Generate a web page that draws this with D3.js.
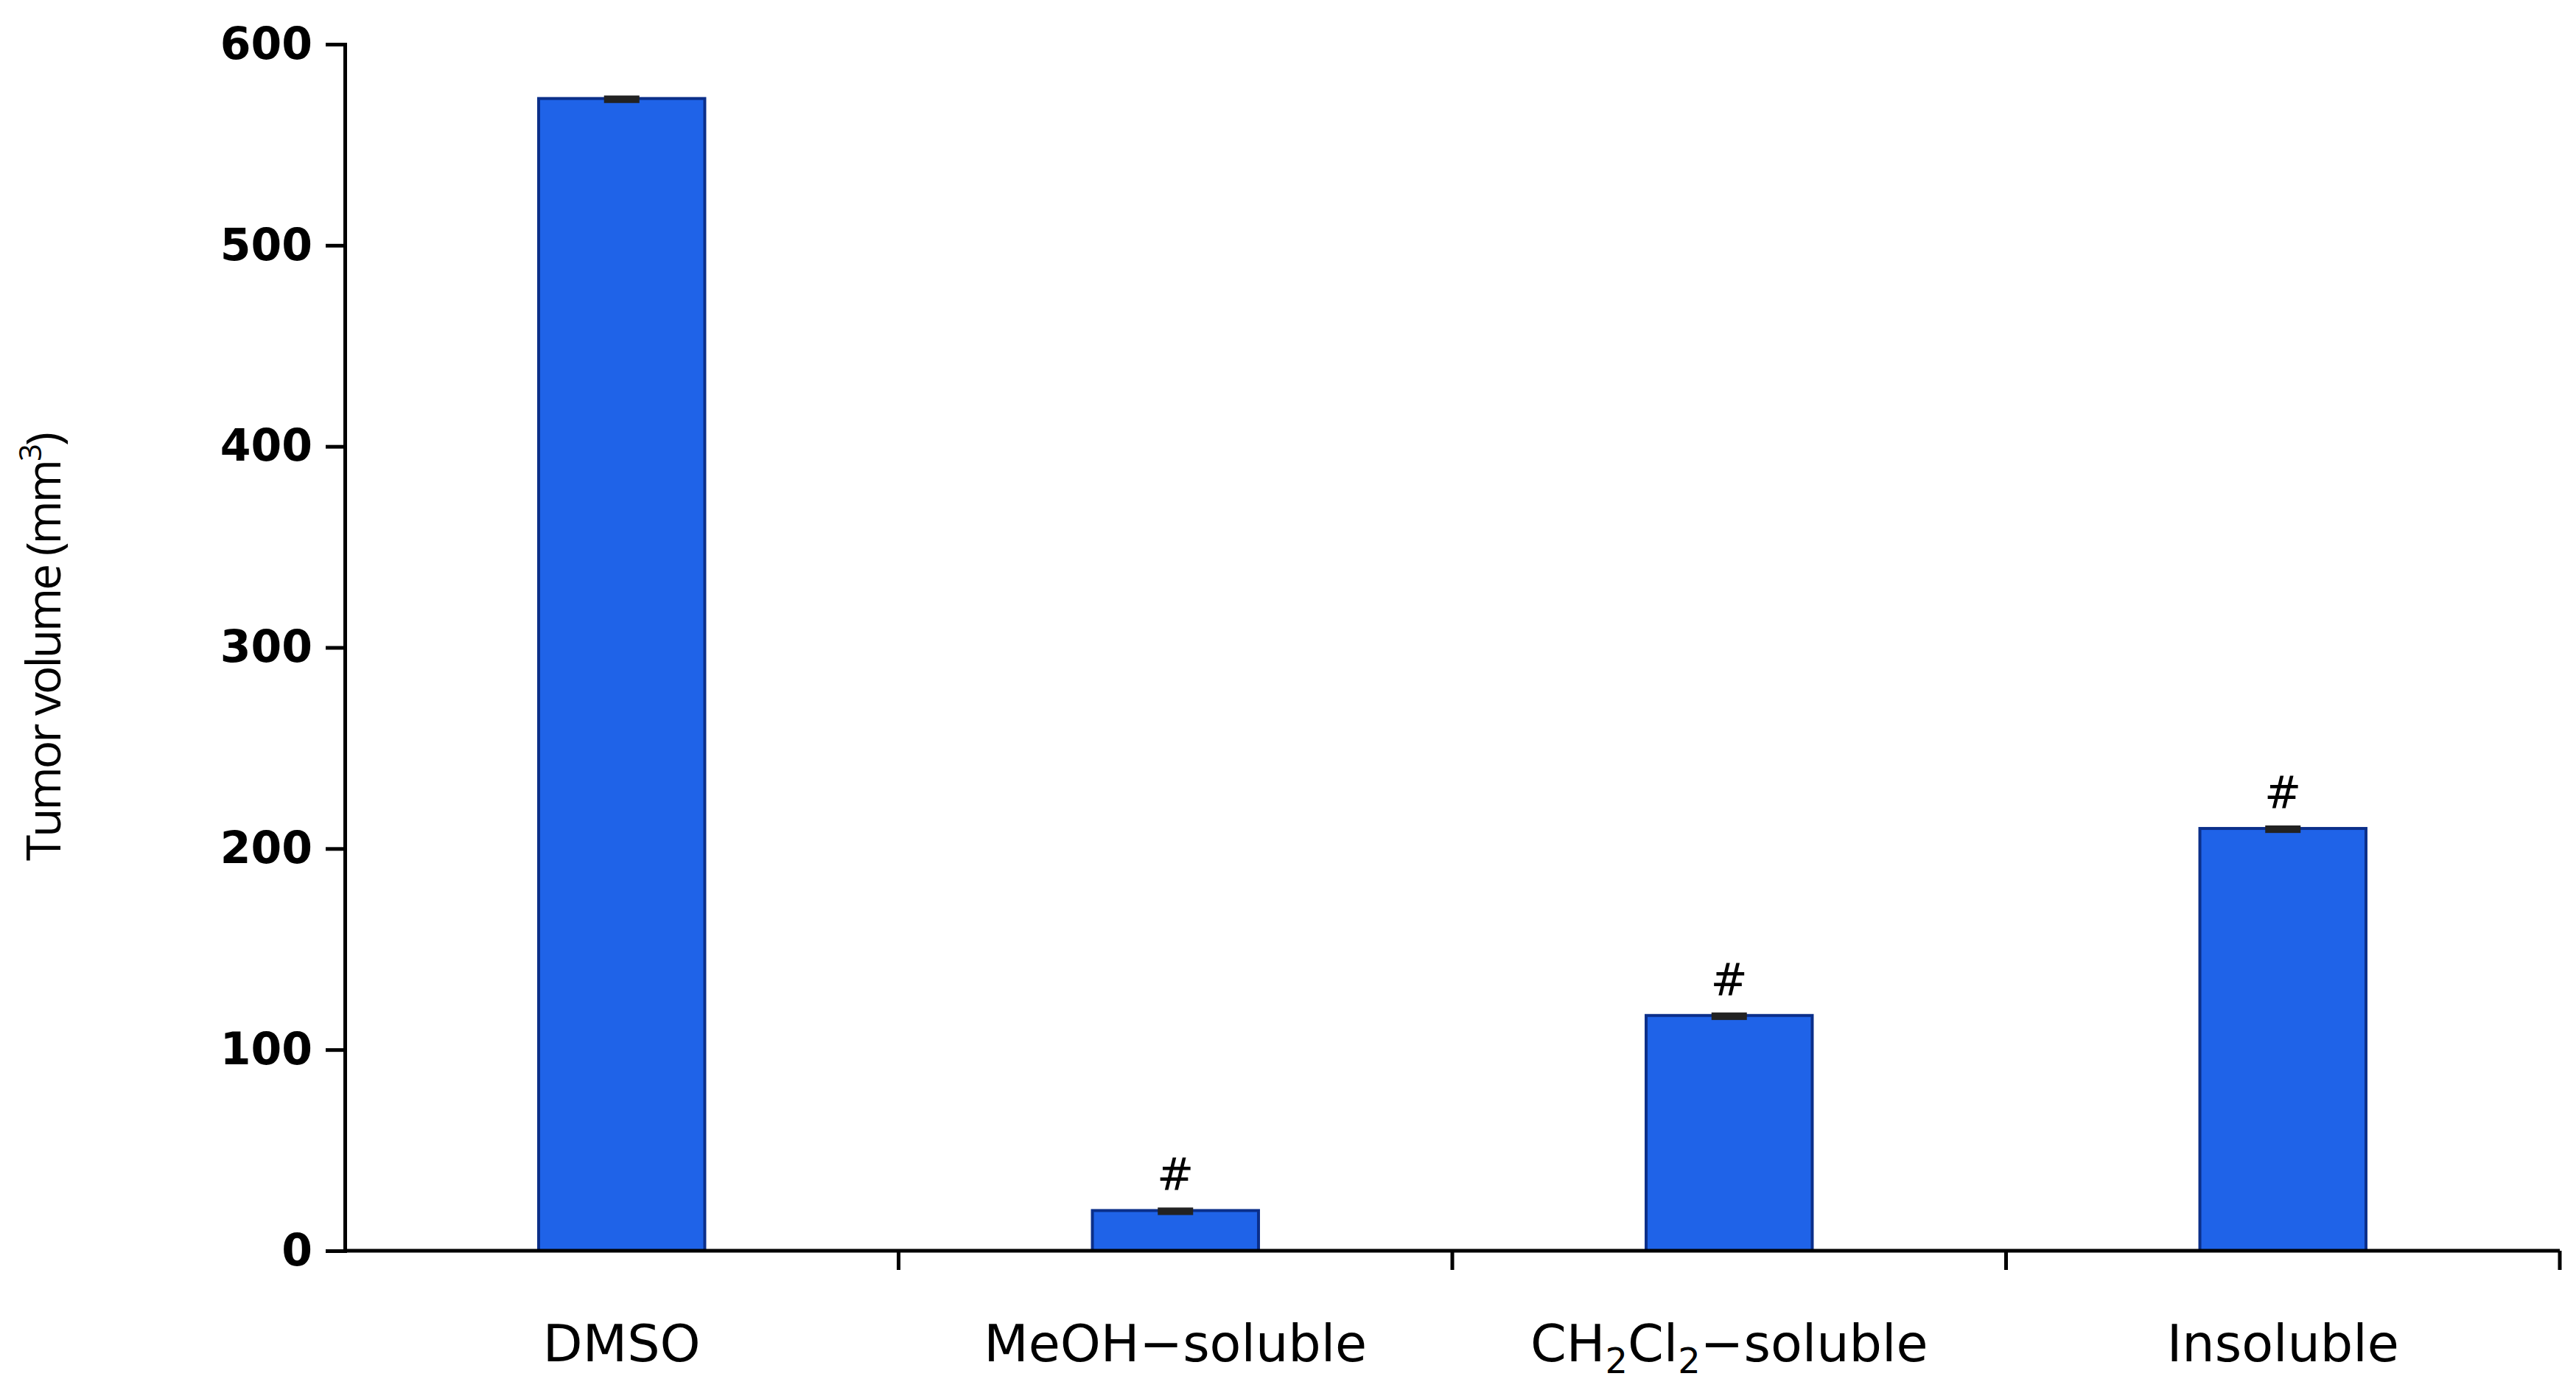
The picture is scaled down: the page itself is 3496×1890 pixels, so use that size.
<!DOCTYPE html>
<html><head><meta charset="utf-8">
<script src="https://cdn.jsdelivr.net/npm/d3@7"></script>
<style>body{margin:0;background:#fff}</style>
</head><body>
<script>
const categories = ['DMSO', 'MeOH-soluble', 'CH2Cl2-soluble', 'Insoluble'];
const values = [573, 20, 117, 210];
const errors = [1.5, 1.5, 1.5, 1.5];
const marks = ['', '#', '#', '#'];
const yTicks = [0, 100, 200, 300, 400, 500, 600];

const W = 3496, H = 1890;
const m = {left: 468, right: 22, top: 60, bottom: 193};

const svg = d3.select('body').append('svg').attr('width', W).attr('height', H);

const x = d3.scaleBand().domain(categories).range([m.left, W - m.right]).paddingInner(0.7).paddingOuter(0.35);
const y = d3.scaleLinear().domain([0, 600]).range([H - m.bottom, m.top]);

// bars
svg.selectAll('rect.bar').data(values).enter().append('rect')
    .attr('class', 'bar')
    .attr('x', (d, i) => x(categories[i]))
    .attr('width', x.bandwidth())
    .attr('y', d => y(d))
    .attr('height', d => y(0) - y(d))
    .attr('fill', '#1f63e8')
    .attr('stroke', '#0b2f8a')
    .attr('stroke-width', 4);

// error caps
svg.selectAll('rect.err').data(values).enter().append('rect')
    .attr('x', (d, i) => x(categories[i]) + x.bandwidth() / 2 - 24)
    .attr('width', 48)
    .attr('y', (d, i) => y(d + errors[i]))
    .attr('height', (d, i) => y(d - errors[i]) - y(d + errors[i]) + 2)
    .attr('fill', '#222');

// significance marks
svg.selectAll('text.mark').data(values).enter().append('text')
    .attr('x', (d, i) => x(categories[i]) + x.bandwidth() / 2)
    .attr('y', d => y(d) - 28)
    .attr('text-anchor', 'middle')
    .style('font-family', 'DejaVu Sans')
    .style('font-size', '60px')
    .text((d, i) => marks[i]);

// y axis
const ya = svg.append('g').attr('transform', `translate(${m.left},0)`)
    .call(d3.axisLeft(y).tickValues(yTicks).tickSize(26).tickPadding(18));
ya.select('.domain').attr('stroke-width', 5);
ya.selectAll('.tick line').attr('stroke-width', 5);
ya.selectAll('text').style('font-family', 'DejaVu Sans').style('font-weight', 'bold')
    .style('font-size', '60px').attr('fill', '#000');

// x axis with ticks at band boundaries
const xa = svg.append('g').attr('transform', `translate(0,${y(0)})`);
xa.append('line').attr('x1', m.left).attr('x2', W - m.right).attr('stroke', '#000').attr('stroke-width', 5);
const step = x.step();
xa.selectAll('line.tk').data(categories).enter().append('line')
    .attr('x1', (d, i) => m.left + step * (i + 1) - (step - x.bandwidth()) * 0 + 0)
    .attr('x2', (d, i) => m.left + step * (i + 1))
    .attr('y1', 0).attr('y2', 26).attr('stroke', '#000').attr('stroke-width', 5);

const labels = xa.selectAll('text.cat').data(categories).enter().append('text')
    .attr('x', d => x(d) + x.bandwidth() / 2)
    .attr('y', 150)
    .attr('text-anchor', 'middle')
    .style('font-family', 'DejaVu Sans')
    .style('font-size', '70px');
labels.each(function(d) {
    const t = d3.select(this);
    if (d === 'CH2Cl2-soluble') {
        t.append('tspan').text('CH');
        t.append('tspan').text('2').attr('dy', 16).style('font-size', '48px');
        t.append('tspan').text('Cl').attr('dy', -16);
        t.append('tspan').text('2').attr('dy', 16).style('font-size', '48px');
        t.append('tspan').text('\u2212soluble').attr('dy', -16);
    } else {
        t.text(d.replace('-', '\u2212'));
    }
});

// y title
const yt = svg.append('text')
    .attr('transform', `translate(82,${(m.top + H - m.bottom) / 2}) rotate(-90)`)
    .attr('text-anchor', 'middle')
    .style('font-family', 'Open Sans')
    .style('font-size', '64px')
    .style('letter-spacing', '-3px');
yt.append('tspan').text('Tumor volume (mm');
yt.append('tspan').text('3').attr('dy', -26).style('font-size', '42px');
yt.append('tspan').text(')').attr('dy', 26);
</script>
</body></html>
